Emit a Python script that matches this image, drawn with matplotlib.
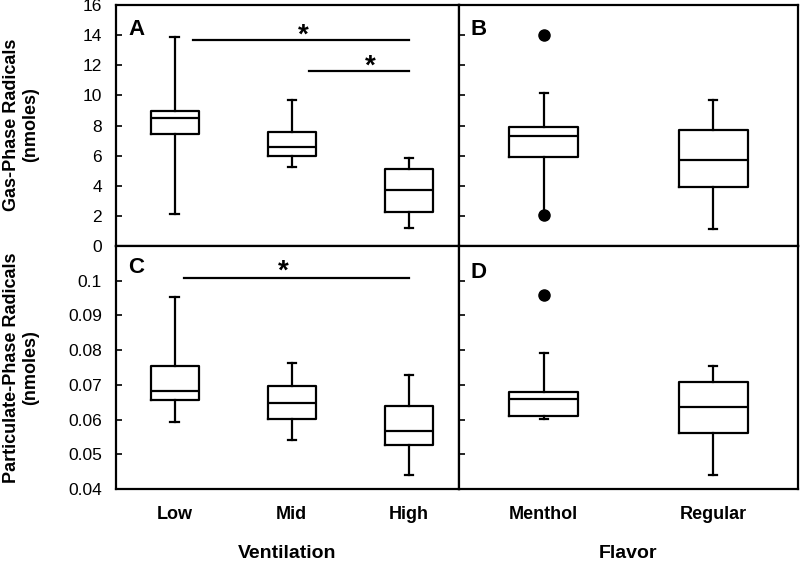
import numpy as np
import matplotlib
matplotlib.use('Agg')
from matplotlib import pyplot as plt

plt.rcParams['font.family'] = ['Liberation Sans', 'DejaVu Sans']

# category names
vent_cats = ['Low', 'Mid', 'High']
flav_cats = ['Menthol', 'Regular']

# box stats: whisker low, q1, median, q3, whisker high
gas_vent_lo = [2.1, 5.27, 1.17]
gas_vent_q1 = [7.42, 5.95, 2.25]
gas_vent_med = [8.48, 6.55, 3.72]
gas_vent_q3 = [8.96, 7.59, 5.14]
gas_vent_hi = [13.9, 9.69, 5.87]

gas_flav_lo = [2.04, 1.15]
gas_flav_q1 = [5.89, 3.89]
gas_flav_med = [7.33, 5.70]
gas_flav_q3 = [7.88, 7.72]
gas_flav_hi = [10.19, 9.71]
gas_flav_out = [[14.0, 2.04], []]

part_vent_lo = [0.0592, 0.0540, 0.0439]
part_vent_q1 = [0.0655, 0.0602, 0.0526]
part_vent_med = [0.0683, 0.0647, 0.0567]
part_vent_q3 = [0.0753, 0.0697, 0.0640]
part_vent_hi = [0.0954, 0.0762, 0.0729]

part_flav_lo = [0.0601, 0.0440]
part_flav_q1 = [0.0611, 0.0560]
part_flav_med = [0.0658, 0.0637]
part_flav_q3 = [0.0680, 0.0708]
part_flav_hi = [0.0791, 0.0753]
part_flav_out = [[0.0958], []]

# significance bars: (x start, x end, y, star x, star y)
sig_gas = [(1.16, 3.0, 13.65, 2.10, 13.94), (2.15, 3.0, 11.64, 2.67, 11.92)]
sig_part = [(1.08, 3.0, 0.1009, 1.93, 0.1027)]

gas_ticks = [0, 2, 4, 6, 8, 10, 12, 14, 16]
part_ticks = [0.04, 0.05, 0.06, 0.07, 0.08, 0.09, 0.1]


def make_stats(lo, q1, med, q3, hi, out=None):
    st = []
    for i in range(len(lo)):
        st.append({'whislo': lo[i], 'q1': q1[i], 'med': med[i], 'q3': q3[i],
                   'whishi': hi[i], 'fliers': out[i] if out else []})
    return st


fig = plt.figure(figsize=(8, 5.64), dpi=100)
L, M, R = 116/800, 459/800, 798/800
T, D, B = 1-5/564, 1-246/564, 1-489/564
axA = fig.add_axes([L, D, M-L, T-D])
axB = fig.add_axes([M, D, R-M, T-D])
axC = fig.add_axes([L, B, M-L, D-B])
axD = fig.add_axes([M, B, R-M, D-B])

lw = 1.6
props = dict(boxprops=dict(color='black', linewidth=lw),
             medianprops=dict(color='black', linewidth=lw),
             whiskerprops=dict(color='black', linewidth=lw),
             capprops=dict(color='black', linewidth=lw),
             flierprops=dict(marker='o', markerfacecolor='black',
                             markeredgecolor='black', markersize=8))

axA.bxp(make_stats(gas_vent_lo, gas_vent_q1, gas_vent_med, gas_vent_q3, gas_vent_hi),
        positions=[1, 2, 3], widths=0.41, capwidths=0.07, **props)
axB.bxp(make_stats(gas_flav_lo, gas_flav_q1, gas_flav_med, gas_flav_q3, gas_flav_hi, gas_flav_out),
        positions=[1, 2], widths=0.41, capwidths=0.05, **props)
axC.bxp(make_stats(part_vent_lo, part_vent_q1, part_vent_med, part_vent_q3, part_vent_hi),
        positions=[1, 2, 3], widths=0.41, capwidths=0.07, **props)
axD.bxp(make_stats(part_flav_lo, part_flav_q1, part_flav_med, part_flav_q3, part_flav_hi, part_flav_out),
        positions=[1, 2], widths=0.41, capwidths=0.05, **props)

for ax in [axA, axC]:
    ax.set_xlim(0.5, 3.43)
for ax in [axB, axD]:
    ax.set_xlim(0.5, 2.5)
for ax in [axA, axB]:
    ax.set_ylim(0, 16)
    ax.set_yticks(gas_ticks)
for ax in [axC, axD]:
    ax.set_ylim(0.04, 0.11)
    ax.set_yticks(part_ticks)

axA.set_yticklabels([str(t) for t in gas_ticks])
axC.set_yticklabels(['{:g}'.format(t) for t in part_ticks])
for ax in [axA, axC]:
    ax.tick_params(axis='y', direction='in', length=4, width=1.2, labelsize=12.5, pad=10)
for ax in [axB, axD]:
    ax.tick_params(axis='y', direction='in', length=4, width=1.2, labelleft=False)

for ax in [axA, axB]:
    ax.set_xticks([])
axC.set_xticks([1, 2, 3])
axC.set_xticklabels(vent_cats, fontweight='bold', fontsize=13)
axD.set_xticks([1, 2])
axD.set_xticklabels(flav_cats, fontweight='bold', fontsize=13)
for ax in [axC, axD]:
    ax.tick_params(axis='x', length=0, pad=12)

for ax in [axA, axB, axC, axD]:
    for s in ax.spines.values():
        s.set_linewidth(1.6)

for ax, letter, yy in [(axA, 'A', 0.9), (axB, 'B', 0.9), (axC, 'C', 0.91), (axD, 'D', 0.89)]:
    ax.text(0.035, yy, letter, transform=ax.transAxes, fontsize=16,
            fontweight='bold', ha='left', va='center')

for x0, x1, y, sx, sy in sig_gas:
    axA.plot([x0, x1], [y, y], color='black', linewidth=1.6)
    axA.text(sx, sy, '*', fontsize=20, fontweight='bold', ha='center', va='center')
for x0, x1, y, sx, sy in sig_part:
    axC.plot([x0, x1], [y, y], color='black', linewidth=1.6)
    axC.text(sx, sy, '*', fontsize=20, fontweight='bold', ha='center', va='center')

fig.text(21/800, 1-125/564, 'Gas-Phase Radicals\n(nmoles)', rotation=90,
         ha='center', va='center', fontsize=13, fontweight='bold', multialignment='center')
fig.text(21/800, 1-368/564, 'Particulate-Phase Radicals\n(nmoles)', rotation=90,
         ha='center', va='center', fontsize=13, fontweight='bold', multialignment='center')
fig.text(287/800, 1-553/564, 'Ventilation', ha='center', va='center', fontsize=14, fontweight='bold')
fig.text(628/800, 1-553/564, 'Flavor', ha='center', va='center', fontsize=14, fontweight='bold')

plt.savefig('out.png', dpi=100)
